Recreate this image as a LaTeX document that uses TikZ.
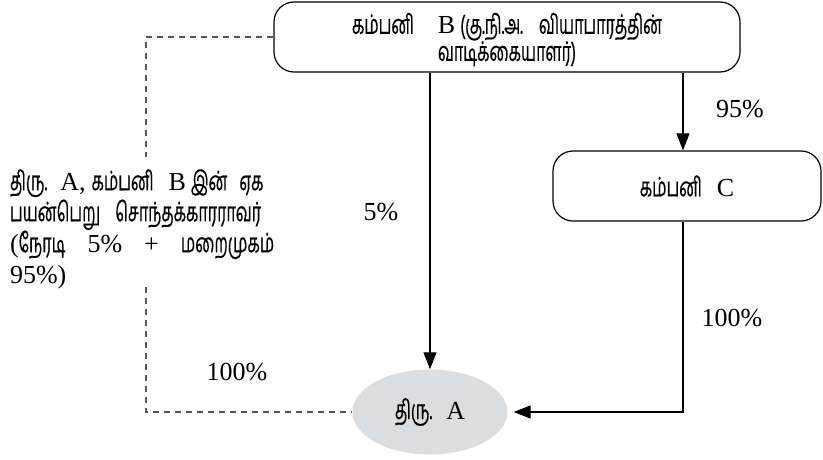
\documentclass[tikz,border=0pt]{standalone}
\usepackage{fontspec}
\setmainfont{Liberation Serif}
\newfontfamily\tam[Script=Tamil,Scale=1.03,FakeStretch=0.6,FakeBold=0.4]{Hind Madurai}
\usetikzlibrary{shapes.geometric,arrows.meta}
\definecolor{ellgray}{HTML}{DCDDDF}
\definecolor{dashgray}{HTML}{555555}
\newcommand{\gp}[1]{\hspace{#1pt}}
\tikzset{
  box/.style={draw, line width=1.2pt, rounded corners=20pt, align=center, inner sep=0pt},
  arr/.style={line width=1.2pt, -{Triangle[length=17pt,width=13pt]}},
  dashline/.style={draw=dashgray, line width=1.1pt, dash pattern=on 6pt off 5pt},
  lbl/.style={inner sep=0pt},
}
\begin{document}
\begin{tikzpicture}[x=1pt,y=-1pt,font=\fontsize{26}{31}\selectfont]
\useasboundingbox (0,0) rectangle (823,460);
\node[box, minimum width=466, minimum height=70, text width=440, font=\fontsize{26}{27}\selectfont] (B) at (507,37)
  {\rule{0pt}{26pt}\mbox{{\tam கம்பனி}\gp{24}B\gp{5}{\tam (கு.நி.அ.}\gp{16}{\tam வியாபாரத்தின்}}\\{\tam வாடிக்கையாளர்)}};
\node[box, minimum width=268, minimum height=70] (C) at (687,186) {{\tam கம்பனி}\gp{15}C};
\node[ellipse, fill=ellgray, minimum width=155, minimum height=85, inner sep=0pt] (A) at (430,412) {{\tam திரு.}\gp{14}A};
\node[text width=272, align=left, inner sep=0pt] (txt) at (146,229)
  {\mbox{{\tam திரு.}\gp{13}A,\gp{6}{\tam கம்பனி}\gp{15}B\gp{5}{\tam இன்}\gp{12}{\tam ஏக}}\\
   \mbox{{\tam பயன்பெறு}\gp{15}{\tam சொந்தக்காரராவர்}}\\
   \mbox{({\tam நேரடி}\gp{22}5\%\gp{22}+\gp{22}{\tam மறைமுகம்}}\\
   95\%)};
\coordinate (dtop) at (146,157);
\coordinate (dbot) at (146,287);
\node[lbl] (l5) at (381,212) {5\%};
\node[lbl] (l95) at (740,109) {95\%};
\node[lbl] (l100r) at (732,318) {100\%};
\node[lbl] (l100l) at (237,372) {100\%};
\draw[arr] (B.south -| A.north) -- (A.north);
\draw[arr] ([xshift=-4pt]C.north |- B.south) -- ([xshift=-4pt]C.north);
\draw[arr, shorten >=6pt] ([xshift=-4pt]C.south) |- (A.east);
\draw[dashline] (B.west) -| (dtop);
\draw[dashline] (dbot) |- (A.west);
\end{tikzpicture}
\end{document}
